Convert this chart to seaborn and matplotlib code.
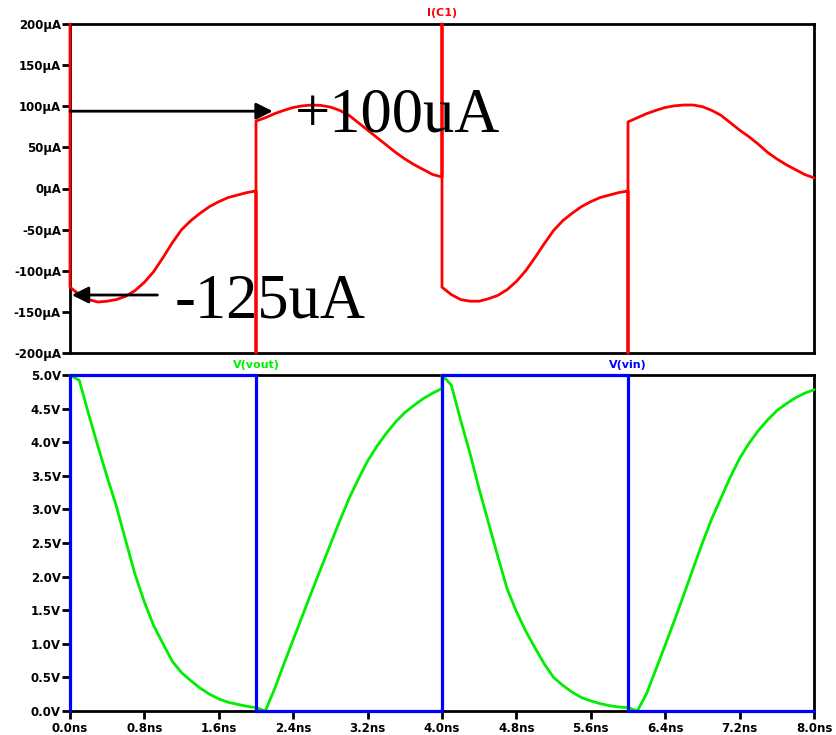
import matplotlib
matplotlib.use('Agg')
import matplotlib.pyplot as plt
import seaborn as sns

# --- transient data (time in ns) ---
seg1_t = [0.0, 0.1, 0.2, 0.3, 0.4, 0.5, 0.6, 0.7, 0.8, 0.9, 1.0,
          1.1, 1.2, 1.3, 1.4, 1.5, 1.6, 1.7, 1.8, 1.9, 2.0]
seg2_t = [2.0, 2.1, 2.2, 2.3, 2.4, 2.5, 2.6, 2.7, 2.8, 2.9, 3.0,
          3.1, 3.2, 3.3, 3.4, 3.5, 3.6, 3.7, 3.8, 3.9, 4.0]
seg3_t = [4.0, 4.1, 4.2, 4.3, 4.4, 4.5, 4.6, 4.7, 4.8, 4.9, 5.0,
          5.1, 5.2, 5.3, 5.4, 5.5, 5.6, 5.7, 5.8, 5.9, 6.0]
seg4_t = [6.0, 6.1, 6.2, 6.3, 6.4, 6.5, 6.6, 6.7, 6.8, 6.9, 7.0,
          7.1, 7.2, 7.3, 7.4, 7.5, 7.6, 7.7, 7.8, 7.9, 8.0]

# I(C1) in uA
ic1_low1 = [-120, -129, -135, -138, -137, -135, -131, -124, -114, -101, -84,
            -66, -50, -39, -30, -22, -16, -11, -8, -5, -3]
ic1_high1 = [82, 86, 91, 95, 98.5, 100.5, 101.5, 101, 99, 95, 89,
             80, 71, 62, 53, 44, 36, 29, 23, 17, 14]
ic1_low2 = [-120, -129, -135, -137, -137, -134, -130, -123, -113, -100, -84,
            -67, -51, -39, -30, -22, -16, -11, -8, -5, -3]
ic1_high2 = [81, 86, 91, 95, 98.5, 100.5, 101.5, 101.5, 99.5, 95, 89,
             80, 71, 63, 54, 44, 36, 29, 23, 17, 13]
# current spikes at the input edges run off the scale (+/-200uA)
spike_t = [0.0, 2.0, 4.0, 6.0]
spike_uA = [200, -200, 200, -200]

# V(vout) in V
vout_fall1 = [5.0, 4.92, 4.42, 3.94, 3.48, 3.04, 2.53, 2.03, 1.62, 1.27, 1.0,
              0.74, 0.57, 0.45, 0.34, 0.25, 0.18, 0.13, 0.10, 0.07, 0.05]
vout_rise1 = [0.05, 0.0, 0.33, 0.70, 1.06, 1.42, 1.78, 2.13, 2.48, 2.83, 3.16,
              3.45, 3.72, 3.94, 4.13, 4.30, 4.44, 4.55, 4.65, 4.73, 4.80]
vout_fall2 = [5.0, 4.85, 4.33, 3.84, 3.30, 2.80, 2.30, 1.82, 1.48, 1.19, 0.94,
              0.70, 0.50, 0.38, 0.28, 0.20, 0.15, 0.11, 0.08, 0.06, 0.05]
vout_rise2 = [0.05, 0.0, 0.26, 0.62, 0.98, 1.35, 1.73, 2.12, 2.50, 2.86, 3.17,
              3.48, 3.76, 3.98, 4.17, 4.33, 4.47, 4.57, 4.66, 4.73, 4.78]

# V(vin) square wave
vin_t = [0.0, 0.0, 2.0, 2.0, 4.0, 4.0, 6.0, 6.0, 8.0]
vin_v = [0.0, 5.0, 5.0, 0.0, 0.0, 5.0, 5.0, 0.0, 0.0]

# stitch the pieces together (spike point sits between segments)
ic1_t = ([spike_t[0]] + seg1_t + [spike_t[1]] + seg2_t
         + [spike_t[2]] + seg3_t + [spike_t[3]] + seg4_t)
ic1_uA = ([spike_uA[0]] + ic1_low1 + [spike_uA[1]] + ic1_high1
          + [spike_uA[2]] + ic1_low2 + [spike_uA[3]] + ic1_high2)
vout_t = seg1_t + seg2_t + seg3_t + seg4_t
vout_v = vout_fall1 + vout_rise1 + vout_fall2 + vout_rise2

sns.set_style('white')
plt.rcParams['font.family'] = ['DejaVu Sans']
plt.rcParams['font.weight'] = 'bold'
plt.rcParams['text.color'] = 'black'
plt.rcParams['xtick.color'] = 'black'
plt.rcParams['ytick.color'] = 'black'

RED = '#ff0000'
GREEN = '#00ee00'
BLUE = '#0000ff'

fig = plt.figure(figsize=(8.37, 7.35), dpi=100)
W, H = 837, 735
ax1 = fig.add_axes([70 / W, 1 - 353 / H, 744 / W, 329 / H])
ax2 = fig.add_axes([70 / W, 1 - 711 / H, 744 / W, 336 / H])

sns.lineplot(x=ic1_t, y=ic1_uA, sort=False, estimator=None, color=RED,
             lw=2.0, ax=ax1, clip_on=False, zorder=3)
sns.lineplot(x=vout_t, y=vout_v, sort=False, estimator=None, color=GREEN,
             lw=2.0, ax=ax2, clip_on=False, zorder=3)
sns.lineplot(x=vin_t, y=vin_v, sort=False, estimator=None, color=BLUE,
             lw=2.3, ax=ax2, clip_on=False, zorder=4)

xticks = [0.0, 0.8, 1.6, 2.4, 3.2, 4.0, 4.8, 5.6, 6.4, 7.2, 8.0]
ua_ticks = [200, 150, 100, 50, 0, -50, -100, -150, -200]
v_ticks = [5.0, 4.5, 4.0, 3.5, 3.0, 2.5, 2.0, 1.5, 1.0, 0.5, 0.0]

for ax in (ax1, ax2):
    ax.set_xlim(0, 8)
    ax.set_xticks(xticks)
    for s in ax.spines.values():
        s.set_visible(True)
        s.set_color('black')
        s.set_linewidth(2.0)
    ax.tick_params(axis='y', direction='out', length=6, width=2,
                   labelsize=8.5, pad=0.5, left=True, colors='black')
    ax.set_xlabel('')
    ax.set_ylabel('')

ax1.set_ylim(-200, 200)
ax1.set_yticks(ua_ticks)
ax1.set_yticklabels([f'{v}µA' for v in ua_ticks])
ax1.tick_params(axis='x', bottom=False, labelbottom=False)

ax2.set_ylim(0, 5)
ax2.set_yticks(v_ticks)
ax2.set_yticklabels([f'{v:.1f}V' for v in v_ticks])
ax2.tick_params(axis='x', direction='out', length=6, width=2,
                labelsize=8.5, pad=2, bottom=True, colors='black')
ax2.set_xticklabels([f'{v:.1f}ns' for v in xticks])

# trace names
ax1.annotate('I(C1)', xy=(4.0, 1.0), xycoords=('data', 'axes fraction'),
             xytext=(0, 8), textcoords='offset points', ha='center',
             va='center', color=RED, fontsize=8, fontweight='bold')
ax2.annotate('V(vout)', xy=(2.0, 1.0), xycoords=('data', 'axes fraction'),
             xytext=(0, 7), textcoords='offset points', ha='center',
             va='center', color=GREEN, fontsize=8, fontweight='bold')
ax2.annotate('V(vin)', xy=(6.0, 1.0), xycoords=('data', 'axes fraction'),
             xytext=(0, 7), textcoords='offset points', ha='center',
             va='center', color=BLUE, fontsize=8, fontweight='bold')

# callouts
arrow = dict(arrowstyle='-|>', color='black', lw=2, mutation_scale=25,
             shrinkA=0, shrinkB=0)
ax1.annotate('', xy=(2.18, 94), xytext=(0.0, 94), arrowprops=arrow,
             zorder=5, annotation_clip=False)
ax1.annotate('', xy=(0.02, -129.5), xytext=(0.94, -129.5), arrowprops=arrow,
             zorder=5, annotation_clip=False)
ax1.text(2.42, 69, '+100uA', fontsize=45, fontweight='normal', color='black',
         family=['Liberation Serif', 'DejaVu Serif'], ha='left',
         va='baseline', zorder=6)
ax1.text(1.13, -157, '-125uA', fontsize=45, fontweight='normal', color='black',
         family=['Liberation Serif', 'DejaVu Serif'], ha='left',
         va='baseline', zorder=6)

fig.savefig('out.png', dpi=100, facecolor='white')
